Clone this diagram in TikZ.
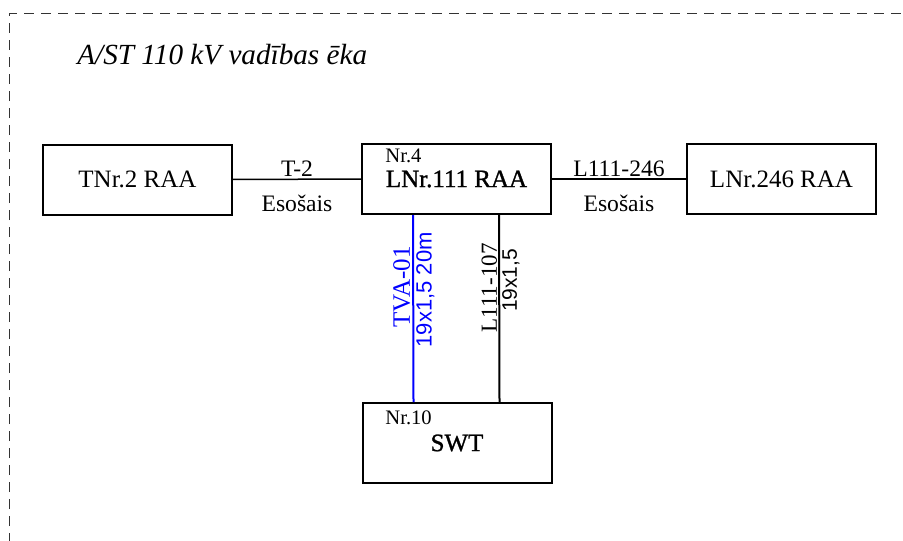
\documentclass[tikz,border=0pt]{standalone}
\usepackage{fontspec}
\setmainfont{Liberation Serif}
\setsansfont{Liberation Sans}
\newfontfamily\boxserif{Liberation Serif}
\newfontfamily\heavyserif{Liberation Serif}[FakeBold=1.2]
\newfontfamily\cablesans{Liberation Sans}
\usepackage{xcolor}
\usetikzlibrary{calc}

\begin{document}
\begin{tikzpicture}[
  x=0.5pt, y=-0.5pt,
  blk/.style={rectangle, draw=black, line width=1pt, minimum width=94.5pt,
              minimum height=35pt, align=center, inner sep=0pt,
              font=\boxserif\fontsize{12.5}{15}\selectfont},
  mainblk/.style={blk, font=\heavyserif\fontsize{12.5}{15}\selectfont},
  tag/.style={anchor=base west, inner sep=0pt, font=\boxserif\fontsize{10.3}{12}\selectfont},
  wire/.style={draw=black, line width=0.75pt},
  lbl/.style={anchor=base, inner sep=0pt, font=\boxserif\fontsize{11.8}{14}\selectfont},
  vlbl/.style={rotate=90, inner sep=1pt}
]
\useasboundingbox (0,0) rectangle (903,540);
%% building frame (runs off the page right and bottom)
\draw[dashed, dash pattern=on 5pt off 3.5pt, line width=0.5pt, black!80]
    (9,560) -- (9,14) -- (930,14);
\node[anchor=base west, inner sep=0pt, font=\boxserif\fontsize{14.6}{17}\selectfont\itshape]
    (t_title) at (77,65) {A/ST 110 kV vadības ēka};
%% cabinets
\node[blk]     (b_tnr2)  at (137.5,179.5) {TNr.2 RAA};
\node[mainblk] (b_ln111) at (456.5,179)   {LNr.111 RAA};
\node[blk]     (b_ln246) at (781.5,179)   {LNr.246 RAA};
\node[mainblk, minimum height=40pt] (b_swt) at (457,443) {SWT};
\node[tag] (t_nr4)  at (385,162) {Nr.4};
\node[tag] (t_nr10) at (385,424) {Nr.10};
%% horizontal links
\draw[wire] (b_tnr2) -- (b_ln111)
    node[lbl, midway, yshift=1.5pt] {T-2}
    node[lbl, midway, yshift=-16pt] {Esošais};
\draw[wire] (b_ln111) -- (b_ln246)
    node[lbl, midway, yshift=1.5pt] {L111-246}
    node[lbl, midway, yshift=-16pt] {Esošais};
%% cables down to SWT
\draw[wire, draw=blue, line width=1pt]
    ([xshift=26pt]b_ln111.south west) -- ([xshift=26pt]b_swt.north west)
    node[vlbl, pos=0.386, anchor=south, text=blue,
         font=\boxserif\fontsize{12.5}{15}\selectfont] {TVA-01}
    node[vlbl, pos=0.40, anchor=north, text=blue,
         font=\cablesans\fontsize{11}{13}\selectfont] {19x1,5 20m};
\draw[wire, line width=1pt]
    ([xshift=-26.5pt]b_ln111.south east) -- ([xshift=-26.5pt]b_swt.north east)
    node[vlbl, pos=0.39, anchor=south, inner sep=0.5pt,
         font=\boxserif\fontsize{11.5}{14}\selectfont] {L111-107}
    node[vlbl, pos=0.35, anchor=north,
         font=\cablesans\fontsize{10.5}{13}\selectfont] {19x1,5};
\end{tikzpicture}
\end{document}
